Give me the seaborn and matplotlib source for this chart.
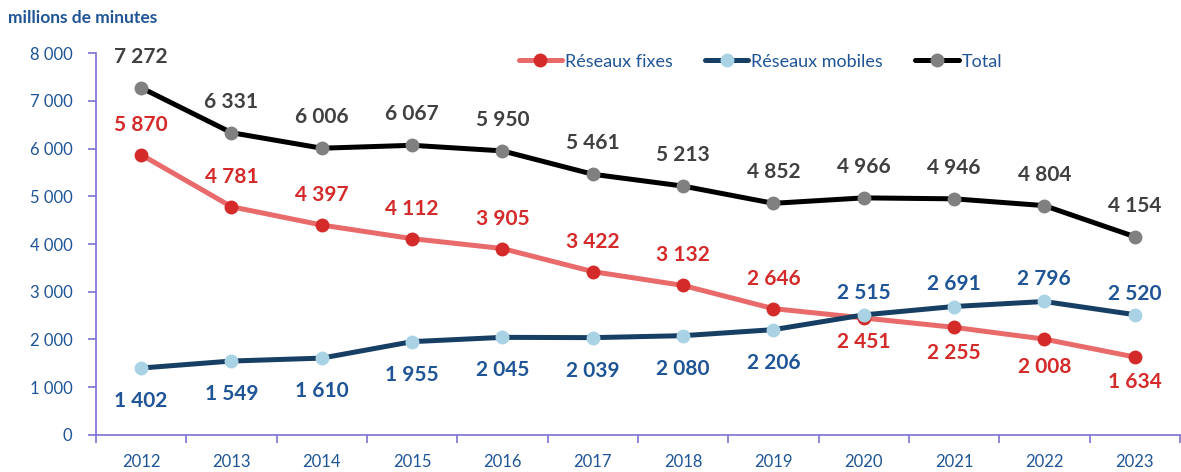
import matplotlib
matplotlib.use("Agg")
import matplotlib.pyplot as plt
from matplotlib.lines import Line2D
import seaborn as sns
import pandas as pd

# Données : trafic voix en millions de minutes
years = ["2012", "2013", "2014", "2015", "2016", "2017",
         "2018", "2019", "2020", "2021", "2022", "2023"]
fixes = [5870, 4781, 4397, 4112, 3905, 3422, 3132, 2646, 2451, 2255, 2008, 1634]
mobiles = [1402, 1549, 1610, 1955, 2045, 2039, 2080, 2206, 2515, 2691, 2796, 2520]
total = [7272, 6331, 6006, 6067, 5950, 5461, 5213, 4852, 4966, 4946, 4804, 4154]
y_ticks = [0, 1000, 2000, 3000, 4000, 5000, 6000, 7000, 8000]
series_names = ["Réseaux fixes", "Réseaux mobiles", "Total"]

sns.set_theme(style="white")
plt.rcParams["font.family"] = ["Lato", "DejaVu Sans"]

BLUE_TXT = "#1F5597"
AXIS = "#7B72D0"

fig = plt.figure(figsize=(11.81, 4.72), dpi=100)
ax = fig.add_axes([0.0813, 0.0784, 0.9177, 0.8093])

pos = list(range(len(years)))
df = pd.DataFrame({"pos": pos, "fixes": fixes, "mobiles": mobiles, "total": total})

styles = {
    "fixes":   dict(line="#E86A6A", marker="#D42A2A", text="#D42A2A"),
    "mobiles": dict(line="#173F63", marker="#A9D3E5", text=BLUE_TXT),
    "total":   dict(line="#000000", marker="#808080", text="#404040"),
}

for col in ["fixes", "mobiles", "total"]:
    st = styles[col]
    sns.lineplot(data=df, x="pos", y=col, ax=ax, color=st["line"], lw=3.6,
                 marker="o", markersize=10, markerfacecolor=st["marker"],
                 markeredgewidth=0, zorder=3 if col != "fixes" else 2)

def fmt(v):
    return f"{v:,}".replace(",", " ")

def annotate(values, color, offsets):
    for i, v in enumerate(values):
        ax.annotate(fmt(v), (i, v), xytext=(0, offsets[i]), textcoords="offset pixels",
                    ha="center", va="center", fontsize=15, fontweight="bold",
                    color=color, annotation_clip=False)

n = len(years)
annotate(total, styles["total"]["text"], [31] * n)
annotate(fixes, styles["fixes"]["text"], [30] * 8 + [-24, -26, -28, -25])
annotate(mobiles, styles["mobiles"]["text"], [-33] * 8 + [22, 23, 22, 21])

# Axes
ax.set_xlim(-0.5, n - 0.5)
ax.set_ylim(0, 8000)
ax.set_yticks(y_ticks)
ax.set_yticklabels([fmt(t) for t in y_ticks], fontsize=12, color=BLUE_TXT)
ax.set_xticks([p - 0.5 for p in range(n + 1)])
ax.set_xticklabels([])
ax.set_xticks(pos, minor=True)
ax.set_xticklabels(years, minor=True, fontsize=12, color=BLUE_TXT)
ax.tick_params(axis="x", which="major", direction="out", length=6, width=1.2,
               color=AXIS, bottom=True)
ax.tick_params(axis="x", which="minor", length=0, pad=14)
ax.tick_params(axis="y", direction="out", length=6, width=1.2, color=AXIS,
               left=True, pad=11)
ax.set_xlabel("")
ax.set_ylabel("")
for side in ["top", "right"]:
    ax.spines[side].set_visible(False)
for side in ["left", "bottom"]:
    ax.spines[side].set_color(AXIS)
    ax.spines[side].set_linewidth(1.2)
ax.grid(False)

handles = [
    Line2D([], [], color=styles[c]["line"], lw=3.6, marker="o", markersize=10,
           markerfacecolor=styles[c]["marker"], markeredgewidth=0)
    for c in ["fixes", "mobiles", "total"]
]
leg = ax.legend(handles, series_names, loc="center", bbox_to_anchor=(0.613, 0.977),
                ncol=3, frameon=False, fontsize=13, handlelength=2.4,
                handletextpad=0.15, columnspacing=1.8)
for t in leg.get_texts():
    t.set_color(BLUE_TXT)

fig.text(0.007, 0.962, "millions de minutes", fontsize=12.5, fontweight="bold",
         color=BLUE_TXT, ha="left", va="center")

fig.savefig("out.png", dpi=100)
